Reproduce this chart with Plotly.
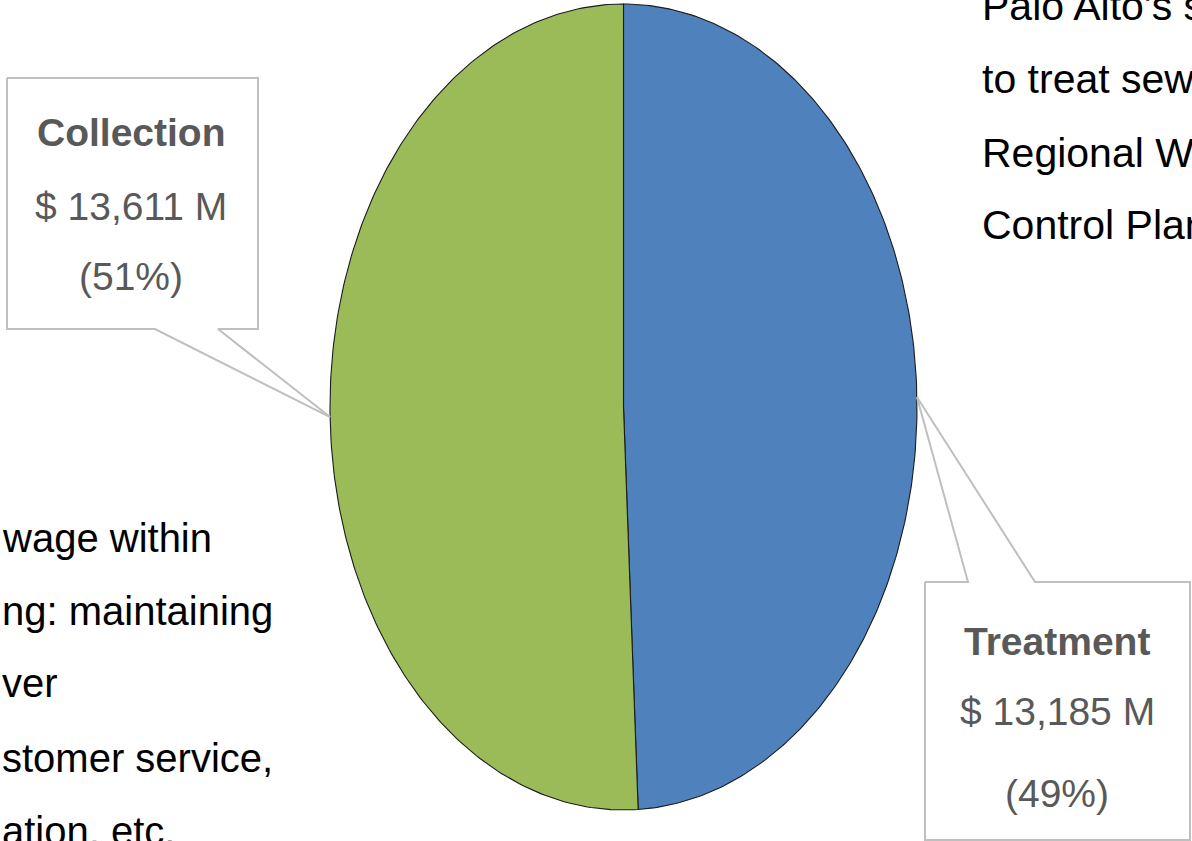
import numpy as np
import plotly.graph_objects as go

# Cost split (millions of dollars)
categories = ["Treatment", "Collection"]
values = [13185, 13611]
colors = ["#4F81BD", "#9BBB59"]

W, H = 1192, 841
CX, CY, RX, RY = 623.5, 407, 293.5, 403   # ellipse geometry in pixels

FONT = "Liberation Sans, Arial, sans-serif"
LABEL_GRAY = "#595959"

right_text = ["Palo Alto's s", "to treat sew", "Regional Wa", "Control Plan"]
left_text = ["wage within", "ng: maintaining", "ver", "stomer service,", "ation, etc."]

total = sum(values)
fracs = [v / total for v in values]


def ell(theta):
    return CX + RX * np.sin(theta), CY - RY * np.cos(theta)


fig = go.Figure()

# Slices start at 12 o'clock and run clockwise
start = 0.0
mids = []
for name, f, c in zip(categories, fracs, colors):
    end = start + f * 2 * np.pi
    t = np.linspace(start, end, 240)
    ex, ey = ell(t)
    xs = np.concatenate([[CX], ex, [CX]])
    ys = np.concatenate([[CY], ey, [CY]])
    fig.add_trace(go.Scatter(x=xs, y=ys, mode="lines", fill="toself",
                             fillcolor=c, line=dict(color="#1b1b1b", width=1.1),
                             hoverinfo="skip", showlegend=False, name=name))
    mids.append((start + end) / 2)
    start = end

# Callout boxes with pointers to the middle of each slice
tx, ty = ell(mids[0])
treat_box = [(925, 582), (968, 582), (tx, ty), (1035, 582), (1190, 582),
             (1190, 840), (925, 840), (925, 582)]
cx_, cy_ = ell(mids[1])
coll_box = [(7, 78), (258, 78), (258, 329), (218, 329), (cx_, cy_),
            (155, 329), (7, 329), (7, 78)]
for box in (treat_box, coll_box):
    bx, by = zip(*box)
    fig.add_trace(go.Scatter(x=bx, y=by, mode="lines", fill="toself",
                             fillcolor="white", line=dict(color="#BFBFBF", width=2),
                             hoverinfo="skip", showlegend=False))


def px(x):
    return x / W


def py(y):
    return 1 - y / H


def label(text, x, y, size, color, bold=False, anchor="center"):
    fig.add_annotation(x=px(x), y=py(y), xref="paper", yref="paper",
                       text=f"<b>{text}</b>" if bold else text, showarrow=False,
                       xanchor=anchor, yanchor="middle",
                       font=dict(family=FONT, size=size, color=color))


def callout(name, value, frac, xc, ys):
    label(name, xc, ys[0], 39, LABEL_GRAY, bold=True)
    label(f"$ {value:,} M", xc, ys[1], 39, LABEL_GRAY)
    label(f"({frac * 100:.0f}%)", xc, ys[2], 39, LABEL_GRAY)


callout(categories[1], values[1], fracs[1], 131, [132, 207, 277])
callout(categories[0], values[0], fracs[0], 1057, [641, 711, 793])

for i, line in enumerate(right_text):
    label(line, 980, [6, 79, 152.5, 225][i], 41, "black", anchor="left")
for i, line in enumerate(left_text):
    label(line, 0, [537.5, 610.5, 682.5, 757.5, 830.5][i], 40, "black", anchor="left")

fig.update_layout(
    width=W, height=H,
    margin=dict(l=0, r=0, t=0, b=0),
    paper_bgcolor="white", plot_bgcolor="white",
    xaxis=dict(range=[0, W], visible=False, fixedrange=True),
    yaxis=dict(range=[H, 0], visible=False, fixedrange=True),
    showlegend=False,
)

fig.write_html("out.html")
